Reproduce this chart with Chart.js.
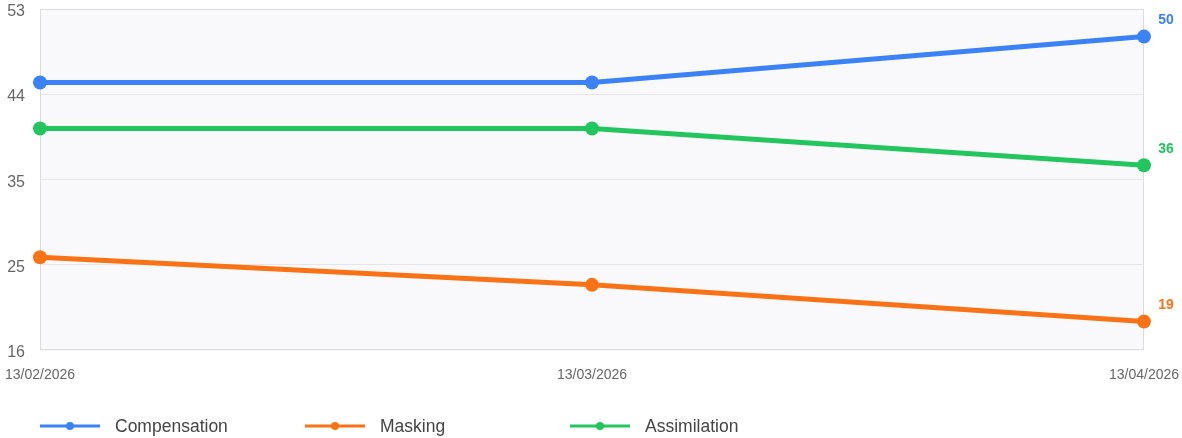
<!DOCTYPE html>
<html>
<head>
<meta charset="utf-8">
<script src="https://cdn.jsdelivr.net/npm/chart.js@4/dist/chart.umd.min.js"></script>
<style>
  html, body { margin: 0; padding: 0; background: #fff; }
  #wrap { position: relative; width: 1182px; height: 438px; }
</style>
</head>
<body>
<div id="wrap"><canvas id="trendChart"></canvas></div>
<script>
const dates = ["13/02/2026", "13/03/2026", "13/04/2026"];
const compensation = [45, 45, 50];
const masking = [26, 23, 19];
const assimilation = [40, 40, 36];
const yTicks = [16, 25.25, 34.5, 43.75, 53];

const seriesColors = {
  Compensation: "#3b82f6",
  Masking: "#f97316",
  Assimilation: "#22c55e"
};

const fontFamily = "'Liberation Sans', Arial, sans-serif";

function makeSet(label, values) {
  return {
    label: label,
    data: values,
    borderColor: seriesColors[label],
    backgroundColor: seriesColors[label],
    borderWidth: 5,
    pointRadius: 7,
    pointHoverRadius: 7,
    pointBorderWidth: 0,
    tension: 0
  };
}

// plot background + frame
const plotFrame = {
  id: "plotFrame",
  beforeDraw(chart) {
    const { ctx, chartArea: a } = chart;
    ctx.save();
    ctx.fillStyle = "#f9f9fb";
    ctx.fillRect(a.left, a.top, a.right - a.left, a.bottom - a.top);
    ctx.restore();
  },
  beforeDatasetsDraw(chart) {
    const { ctx, chartArea: a } = chart;
    ctx.save();
    ctx.strokeStyle = "#dcdcdc";
    ctx.lineWidth = 1;
    ctx.strokeRect(a.left + 0.5, a.top + 0.5, a.right - a.left - 1, a.bottom - a.top);
    ctx.restore();
  }
};

// last value labels on the right
const endLabels = {
  id: "endLabels",
  afterDatasetsDraw(chart) {
    const ctx = chart.ctx;
    ctx.save();
    ctx.font = "bold 14px " + fontFamily;
    ctx.textAlign = "center";
    ctx.textBaseline = "middle";
    chart.data.datasets.forEach((ds, i) => {
      const pts = chart.getDatasetMeta(i).data;
      const p = pts[pts.length - 1];
      ctx.fillStyle = ds.borderColor;
      ctx.fillText(String(ds.data[ds.data.length - 1]), p.x + 22, p.y - 16);
    });
    ctx.restore();
  }
};

// legend along the bottom, left aligned
const bottomLegend = {
  id: "bottomLegend",
  afterDraw(chart) {
    const ctx = chart.ctx;
    const y = 426;
    ctx.save();
    ctx.font = "17.5px " + fontFamily;
    ctx.textBaseline = "middle";
    chart.data.datasets.forEach((ds, i) => {
      const x = 40 + i * 265;
      ctx.strokeStyle = ds.borderColor;
      ctx.lineWidth = 3;
      ctx.beginPath();
      ctx.moveTo(x, y);
      ctx.lineTo(x + 60, y);
      ctx.stroke();
      ctx.fillStyle = ds.borderColor;
      ctx.beginPath();
      ctx.arc(x + 30, y, 4, 0, Math.PI * 2);
      ctx.fill();
      ctx.fillStyle = "#444";
      ctx.fillText(ds.label, x + 75, y + 1);
    });
    ctx.restore();
  }
};

const ctx = document.getElementById("trendChart").getContext("2d");

new Chart(ctx, {
  type: "line",
  data: {
    labels: dates,
    datasets: [
      makeSet("Compensation", compensation),
      makeSet("Masking", masking),
      makeSet("Assimilation", assimilation)
    ]
  },
  options: {
    responsive: true,
    maintainAspectRatio: false,
    animation: false,
    layout: { padding: { top: 9, right: 38, bottom: 36, left: 0 } },
    plugins: {
      legend: { display: false },
      tooltip: { enabled: false }
    },
    scales: {
      x: {
        offset: false,
        grid: { display: false, drawTicks: false },
        border: { display: false },
        afterFit: axis => {
          axis.paddingLeft = 0;
          axis.paddingRight = 0;
        },
        ticks: {
          color: "#666",
          font: { size: 14, family: fontFamily },
          padding: 18,
          maxRotation: 0,
          autoSkip: false
        }
      },
      y: {
        min: 16,
        max: 53,
        afterBuildTicks: axis => {
          axis.ticks = yTicks.map(v => ({ value: v }));
        },
        afterFit: axis => {
          axis.width = 40;
          axis.paddingTop = 0;
          axis.paddingBottom = 0;
        },
        grid: { color: "#e6e6e8", drawTicks: false },
        border: { display: false },
        ticks: {
          color: "#666",
          font: { size: 16, family: fontFamily },
          padding: 15,
          labelOffset: 3,
          callback: v => Math.round(v)
        }
      }
    }
  },
  plugins: [plotFrame, endLabels, bottomLegend]
});
</script>
</body>
</html>
